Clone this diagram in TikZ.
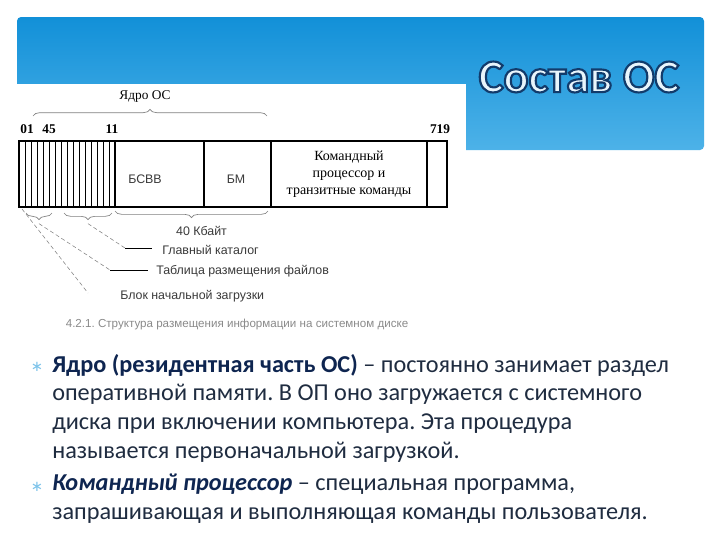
\documentclass[tikz,border=0pt]{standalone}
\usepackage{fontspec}
\setmainfont{Carlito}
\newfontfamily\figserif{Liberation Serif}
\newfontfamily\figsans{Liberation Sans}
\newfontfamily\symfont{DejaVu Sans}
\usepackage{tikz}
\usetikzlibrary{calc,decorations.pathreplacing}
\frenchspacing

\definecolor{bannertop}{HTML}{1290D8}
\definecolor{bannerbot}{HTML}{4DB2E8}
\definecolor{titlefill}{HTML}{E8F5FC}
\definecolor{bodytext}{HTML}{1F2C40}
\definecolor{boldtext}{HTML}{0E2550}
\definecolor{bulletblue}{HTML}{7CC3EA}
\definecolor{figgray}{HTML}{3A3A3A}
\definecolor{capgray}{HTML}{8A8A8A}

% outlined title text (fill + stroke)
\newcommand{\outlined}[1]{\special{pdf:literal direct 2 Tr 1.6 w 0.07 0.23 0.42 RG}#1\special{pdf:literal direct 0 Tr}}

\tikzset{
  titletext/.style={font=\bfseries\fontsize{35}{40}\selectfont, inner sep=0pt},
  serlabel/.style={font=\figserif\fontsize{10}{12}\selectfont, inner sep=0pt},
  numlabel/.style={font=\figserif\bfseries\fontsize{10}{12}\selectfont, inner sep=0pt},
  sanslabel/.style={font=\figsans\fontsize{9.3}{11}\selectfont, text=figgray, inner sep=0pt},
  figbrace/.style={decorate, decoration={brace, amplitude=5pt}, gray, line width=0.5pt},
  leader/.style={densely dashed, gray, line width=0.4pt},
  bullettext/.style={font=\fontsize{18.2}{21.5}\selectfont, text=bodytext, align=left, inner sep=0pt, anchor=north west},
  bulletmark/.style={font=\symfont\fontsize{11}{12}\selectfont, text=bulletblue, inner sep=0pt}
}

\begin{document}
\begin{tikzpicture}[x=0.75pt,y=-0.75pt]
\useasboundingbox (0,0) rectangle (720,540);
\fill[white] (0,0) rectangle (720,540);

% Banner
\shade[top color=bannertop, bottom color=bannerbot, rounded corners=3pt] (17,17) rectangle (704,150);

% Title
\node[titletext, text=titlefill] (title) at (579,77) {\outlined{Состав ОС}};

% Figure area
\fill[white] (17,84) rectangle (466,336);

% Disk layout
\draw[line width=1.3pt] (19,141) rectangle (447,207);
\foreach \k in {1,...,15}
  \draw[line width=0.5pt] (19+6*\k,141) -- (19+6*\k,207);
\draw[line width=0.8pt] (115,141) -- (115,207);
\draw[line width=0.8pt] (204,141) -- (204,207);
\draw[line width=0.8pt] (271,141) -- (271,207);
\draw[line width=0.8pt] (427,141) -- (427,207);

\node[sanslabel] (bsvv) at (145,179) {БСВВ};
\node[sanslabel] (bm) at (236,179) {БМ};
\node[serlabel, align=center, font=\figserif\fontsize{10.5}{12.6}\selectfont] (cmd) at (349,174)
  {Командный\\процессор и\\транзитные команды};

% Numbers above
\node[numlabel] (n01) at (27,129) {01};
\node[numlabel] (n45) at (49,129) {45};
\node[numlabel] (n11) at (112,129) {11};
\node[numlabel] (n719) at (440,129) {719};

% Kernel brace
\draw[figbrace] (33,116) -- (267,116) coordinate[midway, yshift=9pt] (kerntip);
\node[serlabel, anchor=south] (kernel) at ($(kerntip)+(-5,-1)$) {Ядро ОС};

% 40 KB brace
\draw[figbrace] (268,211) -- (115,211) coordinate[midway, yshift=-9pt] (kbtip);
\node[sanslabel, anchor=north] (kb) at ($(kbtip)+(10,3)$) {40 Кбайт};

% Boot block
\coordinate (boot) at (22,209);
\coordinate (bootend) at (88,293);
\node[sanslabel, anchor=west] (bootlbl) at (120,296) {Блок начальной загрузки};
\draw[leader] (boot) -- (bootend);

% File allocation table
\draw[figbrace] (52,213) -- (26,213) coordinate[midway, yshift=-8pt] (fattip);
\coordinate (fatknee) at (110,270);
\node[sanslabel, anchor=west] (fatlbl) at (156,271) {Таблица размещения файлов};
\draw[leader] (fattip) -- (fatknee);
\draw[line width=0.5pt] (fatknee) -- ($(fatlbl.west)+(-8,-1)$);

% Root directory
\draw[figbrace] (112,213) -- (64,213) coordinate[midway, yshift=-8pt] (roottip);
\coordinate (rootknee) at (125,248);
\node[sanslabel, anchor=west] (rootlbl) at (162,250) {Главный каталог};
\draw[leader] (roottip) -- (rootknee);
\draw[line width=0.5pt] (rootknee) -- ($(rootlbl.west)+(-10,-2)$);

% Caption
\node[sanslabel, font=\figsans\fontsize{8.7}{10}\selectfont, text=capgray] (caption) at (237,324) {4.2.1. Структура размещения информации на системном диске};

% Bullets
\node[bulletmark] (b1) at (37,367) {∗};
\node[bullettext] (t1) at (52,354)
  {{\bfseries\color{boldtext}Ядро (резидентная часть ОС)} – постоянно занимает раздел\\
   оперативной памяти. В ОП оно загружается с системного\\
   диска при включении компьютера. Эта процедура\\
   называется первоначальной загрузкой.};
\node[bulletmark] (b2) at (37,487) {∗};
\node[bullettext] (t2) at (52,474)
  {{\bfseries\itshape\color{boldtext}Командный процессор} – специальная программа,\\
   запрашивающая и выполняющая команды пользователя.};
\end{tikzpicture}
\end{document}
